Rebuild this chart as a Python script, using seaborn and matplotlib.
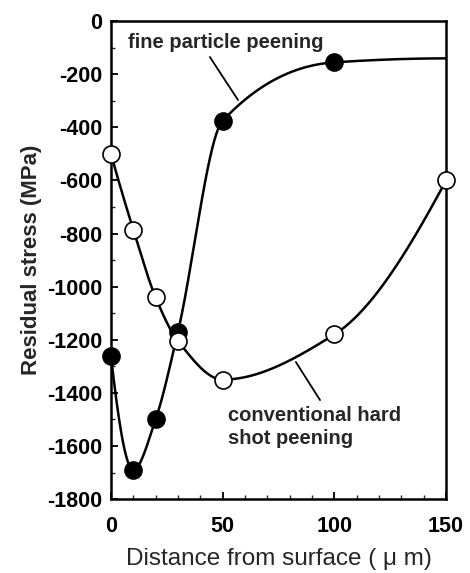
import numpy as np
import pandas as pd
import matplotlib
matplotlib.use("Agg")
import matplotlib.pyplot as plt
import seaborn as sns

# ---- data ----
fine_depth = [0, 10, 20, 30, 50, 100]
fine_stress = [-1260, -1690, -1500, -1170, -375, -155]
fine_tail_depth = [150]
fine_tail_stress = [-140]

conv_depth = [0, 10, 20, 30, 50, 100, 150]
conv_stress = [-500, -785, -1040, -1205, -1350, -1180, -600]

x_ticks = [0, 50, 100, 150]
y_ticks = [0, -200, -400, -600, -800, -1000, -1200, -1400, -1600, -1800]


def pchip(x, y, xs):
    x = np.asarray(x, float); y = np.asarray(y, float)
    h = np.diff(x); delta = np.diff(y) / h
    n = len(x); d = np.zeros(n)
    for k in range(1, n - 1):
        if delta[k - 1] * delta[k] > 0:
            w1 = 2 * h[k] + h[k - 1]; w2 = h[k] + 2 * h[k - 1]
            d[k] = (w1 + w2) / (w1 / delta[k - 1] + w2 / delta[k])
    def end(h0, h1, d0, d1):
        dd = ((2 * h0 + h1) * d0 - h0 * d1) / (h0 + h1)
        if np.sign(dd) != np.sign(d0):
            dd = 0
        elif np.sign(d0) != np.sign(d1) and abs(dd) > abs(3 * d0):
            dd = 3 * d0
        return dd
    d[0] = end(h[0], h[1], delta[0], delta[1])
    d[-1] = end(h[-1], h[-2], delta[-1], delta[-2])
    out = np.empty_like(xs, dtype=float)
    for i, xv in enumerate(xs):
        k = min(np.searchsorted(x, xv, side="right") - 1, n - 2)
        t = (xv - x[k]) / h[k]
        h00 = 2 * t**3 - 3 * t**2 + 1; h10 = t**3 - 2 * t**2 + t
        h01 = -2 * t**3 + 3 * t**2; h11 = t**3 - t**2
        out[i] = h00 * y[k] + h10 * h[k] * d[k] + h01 * y[k + 1] + h11 * h[k] * d[k + 1]
    return out


sns.set_style("ticks")
plt.rcParams["font.family"] = ["Liberation Sans", "DejaVu Sans"]

fig = plt.figure(figsize=(4.70, 5.73), dpi=100)
ax = fig.add_axes([0.236, 0.129, 0.713, 0.834])

fx = fine_depth + fine_tail_depth
fy = fine_stress + fine_tail_stress
xs = np.linspace(0, 150, 600)
fine_curve = pd.DataFrame({"x": xs, "y": pchip(fx, fy, xs)})
conv_curve = pd.DataFrame({"x": xs, "y": pchip(conv_depth, conv_stress, xs)})

sns.lineplot(data=fine_curve, x="x", y="y", ax=ax, color="black", lw=1.8, sort=False)
sns.lineplot(data=conv_curve, x="x", y="y", ax=ax, color="black", lw=1.8, sort=False)

sns.scatterplot(x=fine_depth, y=fine_stress, ax=ax, s=150, color="black",
                edgecolor="black", linewidth=1.2, zorder=5, clip_on=False)
sns.scatterplot(x=conv_depth, y=conv_stress, ax=ax, s=150, color="white",
                edgecolor="black", linewidth=1.2, zorder=6, clip_on=False)

ax.set_xlim(0, 150)
ax.set_ylim(-1800, 0)
ax.set_xticks(x_ticks)
ax.set_yticks(y_ticks)
ax.set_xticks(np.arange(0, 151, 10), minor=True)
ax.set_yticks(np.arange(-1800, 1, 100), minor=True)
ax.set_xticklabels([str(v) for v in x_ticks], fontsize=15.5, fontweight="bold")
ax.set_yticklabels([str(v) for v in y_ticks], fontsize=15.5, fontweight="bold")
ax.tick_params(axis="x", which="major", pad=12)
ax.tick_params(axis="y", which="major", pad=6)
ax.tick_params(axis="both", which="major", direction="in", length=5, width=1.3,
               top=False, right=False, colors="black")
ax.tick_params(axis="both", which="minor", direction="in", length=3, width=1.0,
               top=False, right=False)
for s in ax.spines.values():
    s.set_linewidth(1.8)
    s.set_color("black")
    s.set_visible(True)

ax.set_xlabel("Distance from surface ( \u03bc m)", fontsize=17.5, labelpad=8)
ax.set_ylabel("Residual stress (MPa)", fontsize=16, fontweight="bold", labelpad=4)

ax.text(7.6, -79, "fine particle peening", fontsize=14.5, fontweight="bold",
        va="center", ha="left")
ax.plot([44.3, 56.9], [-135, -297], color="black", lw=1.3)
ax.text(52.4, -1528, "conventional hard\nshot peening", fontsize=14.5,
        fontweight="bold", va="center", ha="left", linespacing=1.3)
ax.plot([82.8, 93.6], [-1284, -1427], color="black", lw=1.3)

fig.savefig("out.png", dpi=100)
